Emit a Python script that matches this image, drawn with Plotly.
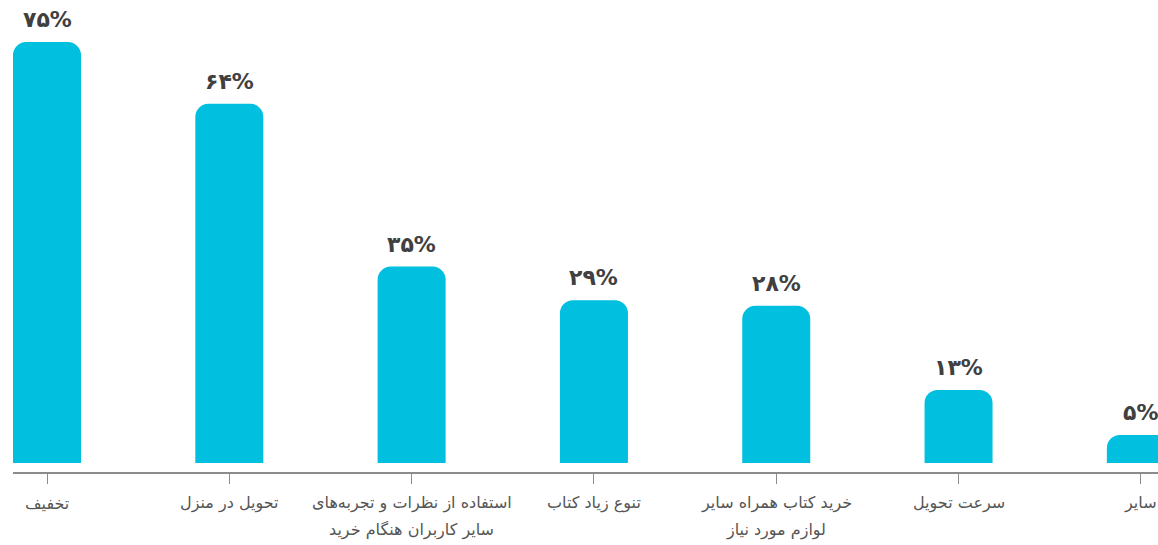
import plotly.graph_objects as go

# Survey: reasons for buying books online (percent of respondents)
categories = [
    ["تخفیف"],
    ["تحویل در منزل"],
    ["استفاده از نظرات و تجربه‌های", "سایر کاربران هنگام خرید"],
    ["تنوع زیاد کتاب"],
    ["خرید کتاب همراه سایر", "لوازم مورد نیاز"],
    ["سرعت تحویل"],
    ["سایر"],
]
values = [75, 64, 35, 29, 28, 13, 5]

PERSIAN_DIGITS = str.maketrans("0123456789", "۰۱۲۳۴۵۶۷۸۹")


def fa_percent(v):
    return f"{v}".translate(PERSIAN_DIGITS) + "%"


labels = [fa_percent(v) for v in values]
x_pos = list(range(len(categories)))

BAR_COLOR = "#00BFDF"
FONT = "DejaVu Sans"

fig = go.Figure()
fig.add_trace(
    go.Bar(
        x=x_pos,
        y=values,
        width=0.373,
        marker=dict(color=BAR_COLOR, line=dict(width=0)),
        hoverinfo="skip",
    )
)

# value labels above each bar
for xi, v, lab in zip(x_pos, values, labels):
    fig.add_annotation(
        x=xi,
        y=v,
        text=f"<b>{lab}</b>",
        showarrow=False,
        yanchor="bottom",
        yshift=8,
        font=dict(family=FONT, size=22, color="#404040"),
    )

# category labels under the axis, one annotation per line for wider leading
for xi, lines in zip(x_pos, categories):
    for k, line in enumerate(lines):
        fig.add_annotation(
            x=xi,
            xref="x",
            y=0,
            yref="paper",
            text=line,
            showarrow=False,
            yanchor="middle",
            yshift=-31 - 27 * k,
            font=dict(family=FONT, size=16, color="#555555"),
        )

fig.update_layout(
    width=1158,
    height=545,
    margin=dict(l=13, r=0, t=0, b=73),
    paper_bgcolor="white",
    plot_bgcolor="white",
    showlegend=False,
    barcornerradius=13,
    font=dict(family=FONT, color="#555555"),
)

fig.update_xaxes(
    range=[-0.1865, 6.094],
    tickmode="array",
    tickvals=x_pos,
    ticktext=["" for _ in x_pos],
    showline=True,
    linecolor="#8c8c8c",
    linewidth=1.5,
    ticks="outside",
    ticklen=10,
    tickwidth=1.2,
    tickcolor="#8c8c8c",
    showgrid=False,
    zeroline=False,
    fixedrange=True,
)

fig.update_yaxes(
    range=[-1.6, 82.5],
    visible=False,
    showgrid=False,
    zeroline=False,
    fixedrange=True,
)

fig.write_html("out.html", config={"displayModeBar": False})
